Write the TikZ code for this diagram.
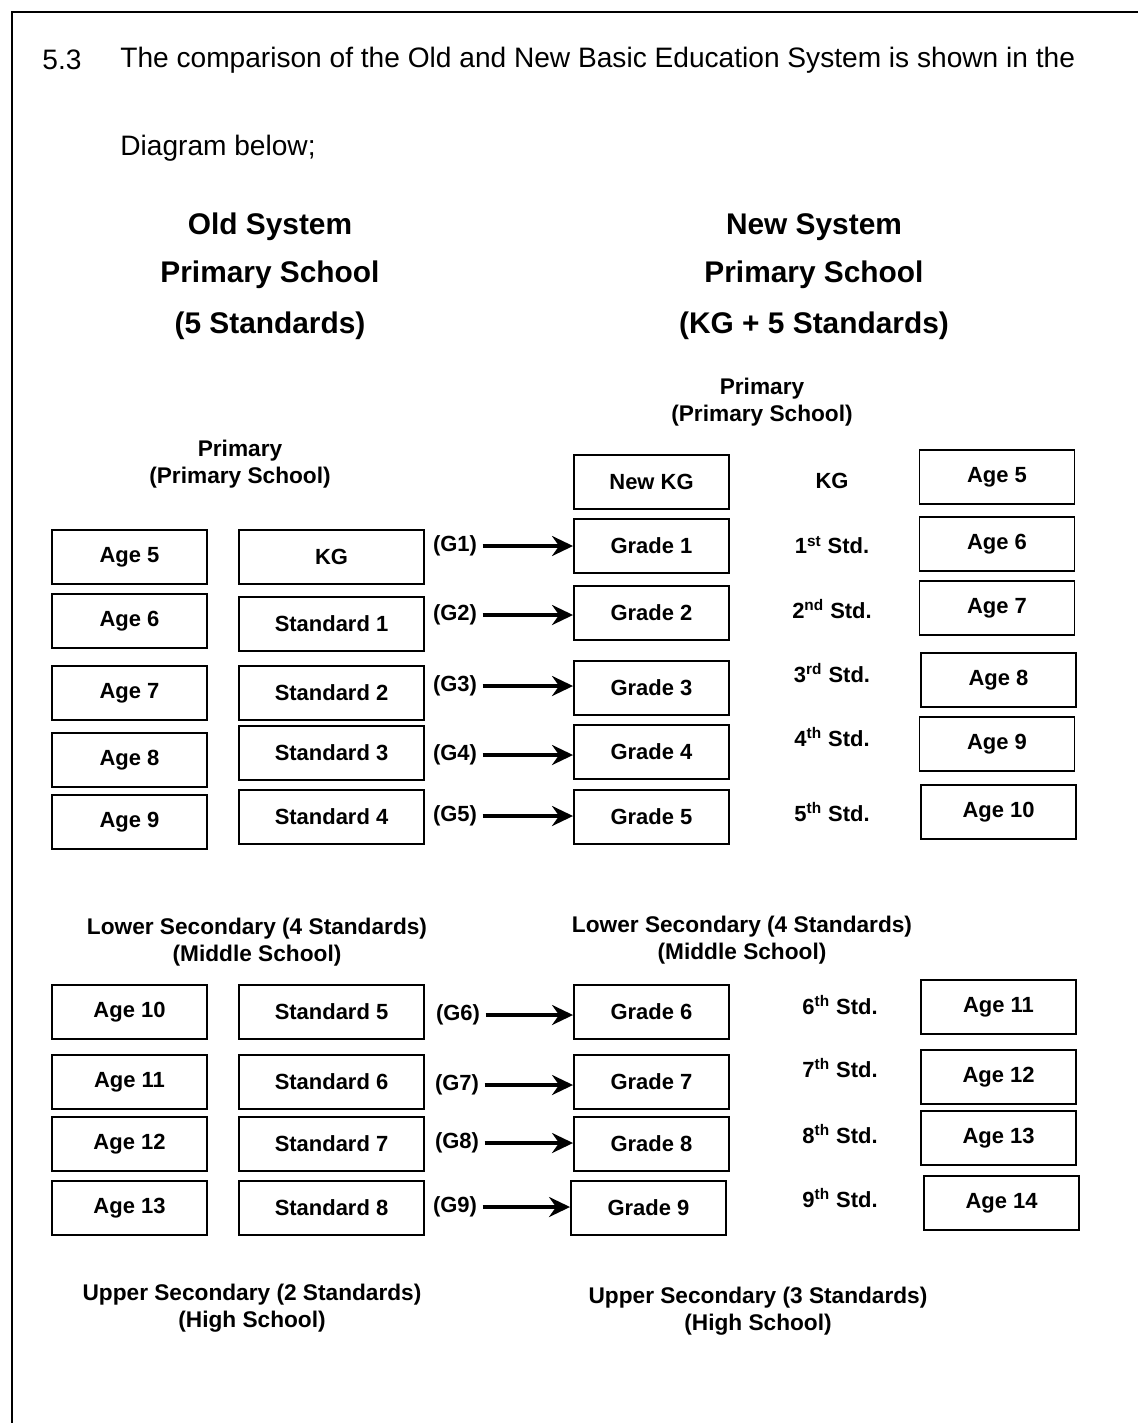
\documentclass[tikz,border=0pt]{standalone}
\usepackage{fontspec}
\setmainfont{Liberation Sans}
\usetikzlibrary{arrows.meta}

\begin{document}
\begin{tikzpicture}[x=0.02cm,y=-0.02cm,
   petit/.style={font=\fontsize{12.5}{15}\selectfont\bfseries},
   case/.style={petit,draw,line width=1.1pt,minimum height=1.08cm,inner sep=0pt},
   case age/.style={case,minimum width=3.1cm},
   case std/.style={case,minimum width=3.7cm},
   grand titre/.style={font=\fontsize{17}{21}\selectfont\bfseries},
   groupe/.style={font=\fontsize{12.9}{15.2}\selectfont\bfseries,align=center},
   fleche/.style={-{Stealth[length=4.2mm,width=4mm,inset=1.4mm]},line width=2.2pt,shorten <=2pt}]

  \useasboundingbox (0,0) rectangle (1138,1423);
  \draw[line width=1.2pt] (1138,12) -| (12,1423);

  % intro
  \node[font=\fontsize{16}{19}\selectfont] (num) at (62,60) {5.3};
  \node[font=\fontsize{16}{19}\selectfont,anchor=west,inner sep=0pt] (intro) at (120,60)
    {The comparison of the Old and New Basic Education System is shown in the};
  \node[font=\fontsize{16}{19}\selectfont,anchor=west,inner sep=0pt] (intro2) at (120,148) {Diagram below;};

  % titles
  \node[grand titre] (old1) at (270,227) {Old System};
  \node[grand titre] (old2) at (270,275) {Primary School};
  \node[grand titre] (old3) at (270,326) {(5 Standards)};
  \node[grand titre] (new1) at (814,227) {New System};
  \node[grand titre] (new2) at (814,275) {Primary School};
  \node[grand titre] (new3) at (814,326) {(KG + 5 Standards)};

  \node[groupe] (oldprim) at (240,464) {Primary\\(Primary School)};
  \node[groupe] (newprim) at (762,402) {Primary\\(Primary School)};
  \node[groupe] (oldlow) at (257,942) {Lower Secondary (4 Standards)\\(Middle School)};
  \node[groupe] (newlow) at (742,940) {Lower Secondary (4 Standards)\\(Middle School)};
  \node[groupe] (oldup) at (252,1308) {Upper Secondary (2 Standards)\\(High School)};
  \node[groupe] (newup) at (758,1311) {Upper Secondary (3 Standards)\\(High School)};

  % old system
  \foreach \n/\y/\t in {oa5/557/Age 5,oa6/621/Age 6,oa7/693/Age 7,oa8/760/Age 8,oa9/822/Age 9,
      oa10/1012/Age 10,oa11/1082/Age 11,oa12/1144/Age 12,oa13/1208/Age 13}
    \node[case age] (\n) at (129.5,\y) {\t};
  \foreach \n/\y/\t in {s0/557/KG,s1/624/Standard 1,s2/693/Standard 2,s3/753/Standard 3,s4/817/Standard 4,
      s5/1012/Standard 5,s6/1082/Standard 6,s7/1144/Standard 7,s8/1208/Standard 8}
    \node[case std] (\n) at (331.5,\y) {\t};

  % new system
  \node[case age] (g0) at (651.5,482) {New KG};
  \foreach \n/\y/\t in {g1/546/Grade 1,g2/613/Grade 2,g3/688/Grade 3,g4/752/Grade 4,g5/817/Grade 5,
      g6/1012/Grade 6,g7/1082/Grade 7,g8/1144/Grade 8}
    \node[case age] (\n) at (651.5,\y) {\t};
  \node[case age] (g9) at (648.5,1208) {Grade 9};

  \foreach \n/\x/\y/\t in {k0/832/481/KG,k1/832/545/1\textsuperscript{st} Std.,k2/832/609/2\textsuperscript{nd} Std.,
      k3/832/673/3\textsuperscript{rd} Std.,k4/832/737/4\textsuperscript{th} Std.,k5/832/812/5\textsuperscript{th} Std.,
      k6/840/1005/6\textsuperscript{th} Std.,k7/840/1068/7\textsuperscript{th} Std.,
      k8/840/1134/8\textsuperscript{th} Std.,k9/840/1198/9\textsuperscript{th} Std.}
    \node[petit] (\n) at (\x,\y) {\t};

  \foreach \n/\x/\y/\t in {na5/997/477/Age 5,na6/997/544/Age 6,na7/997/608/Age 7,na8/998.5/680/Age 8,
      na9/997/744/Age 9,na10/998.5/812/Age 10,na11/998.5/1007/Age 11,na12/998.5/1077/Age 12,
      na13/998.5/1138/Age 13,na14/1001.5/1203/Age 14}
    \node[case age] (\n) at (\x,\y) {\t};

  % passage
  \foreach \n/\x/\y in {G1/455/546,G2/455/615,G3/455/686,G4/455/755,G5/455/816,
      G6/458/1015,G7/457/1085,G8/457/1143,G9/455/1207}
    \node[petit,inner sep=1pt] (\n) at (\x,\y) {(\n)};

  \foreach \from/\to in {G1/g1,G2/g2,G3/g3,G4/g4,G5/g5,G6/g6,G7/g7,G8/g8,G9/g9}
    \draw[fleche] (\from.east) -- (\from.east -| \to.west);
\end{tikzpicture}
\end{document}
